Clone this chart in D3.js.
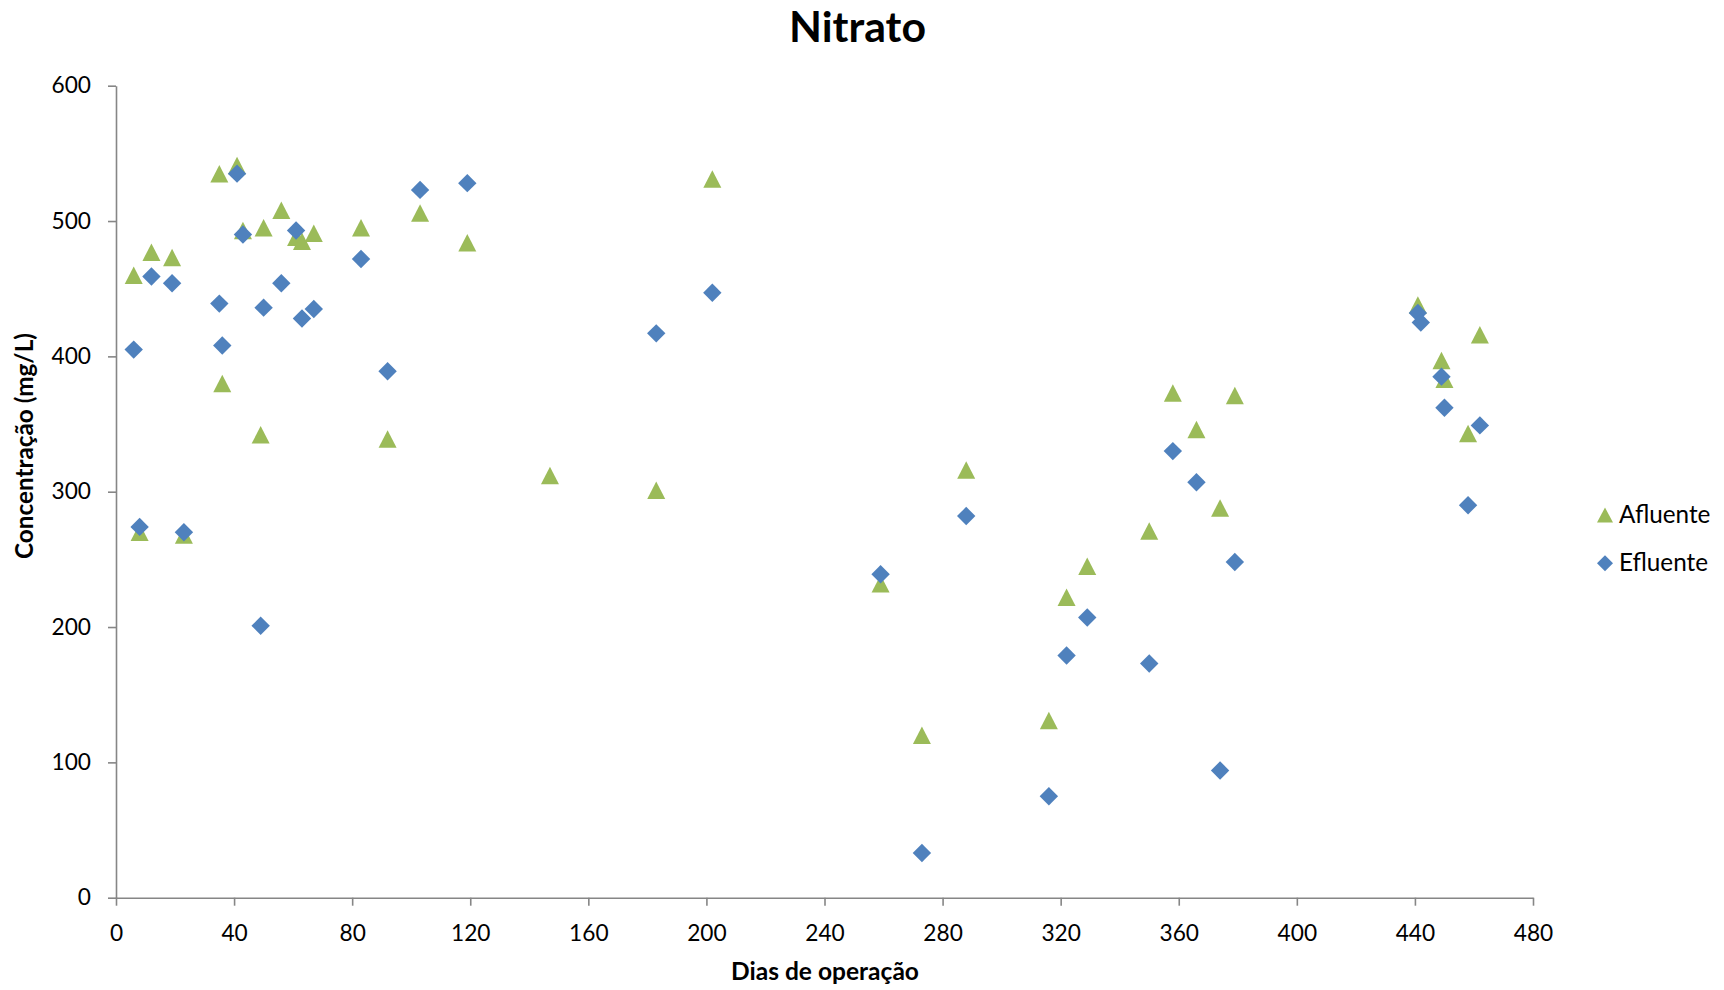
<!DOCTYPE html>
<html>
<head>
<meta charset="utf-8">
<script src="https://cdn.jsdelivr.net/npm/d3@7"></script>
<style>
  body { margin: 0; background: #ffffff; }
  svg { display: block; }
  text { font-family: Lato, "Open Sans", sans-serif; fill: #000; }
</style>
</head>
<body>
<svg id="chart" width="1724" height="990"></svg>
<script>
// ---- data ----
const afluenteDays = [6, 8, 12, 19, 23, 35, 36, 41, 43, 49, 50, 56, 61, 63, 67, 83, 92, 103, 119, 147, 183, 202, 259, 273, 288, 316, 322, 329, 350, 358, 366, 374, 379, 441, 449, 450, 458, 462];
const afluenteValues = [460, 270, 477, 473, 268, 535, 380, 541, 493, 342, 495, 508, 488, 485, 491, 495, 339, 506, 484, 312, 301, 531, 232, 120, 316, 131, 222, 245, 271, 373, 346, 288, 371, 438, 397, 383, 343, 416];

const efluenteDays = [6, 8, 12, 19, 23, 35, 36, 41, 43, 49, 50, 56, 61, 63, 67, 83, 92, 103, 119, 183, 202, 259, 273, 288, 316, 322, 329, 350, 358, 366, 374, 379, 441, 442, 449, 450, 458, 462];
const efluenteValues = [405, 274, 459, 454, 270, 439, 408, 535, 490, 201, 436, 454, 493, 428, 435, 472, 389, 523, 528, 417, 447, 239, 33, 282, 75, 179, 207, 173, 330, 307, 94, 248, 432, 425, 385, 362, 290, 349];

const xTickValues = [0, 40, 80, 120, 160, 200, 240, 280, 320, 360, 400, 440, 480];
const yTickValues = [0, 100, 200, 300, 400, 500, 600];

const seriesNames = ["Afluente", "Efluente"];
const chartTitle = "Nitrato";
const xTitle = "Dias de operação";
const yTitle = "Concentração (mg/L)";

// ---- layout ----
const svg = d3.select("#chart");
const x = d3.scaleLinear().domain([0, 480]).range([116, 1533]);
const y = d3.scaleLinear().domain([0, 600]).range([897.7, 85.7]);
const green = "#9BBB59", blue = "#4F81BD", axisColor = "#868686";

function fitWidth(sel, target, base) {
  sel.style("font-size", base + "px");
  const w = sel.node().getComputedTextLength();
  const s = base * target / w;
  sel.style("font-size", s + "px");
  return s;
}

function triPath(w, h) {
  return `M0,${-h/2}L${w/2},${h/2}L${-w/2},${h/2}Z`;
}
function diaPath(r) {
  return `M0,${-r}L${r},0L0,${r}L${-r},0Z`;
}

// axes
const yAxis = svg.append("g").attr("transform", `translate(${x(0)},0)`)
  .call(d3.axisLeft(y).tickValues(yTickValues).tickSize(8).tickSizeOuter(0).tickPadding(17).tickFormat(d3.format("d")));
const xAxis = svg.append("g").attr("transform", `translate(0,${y(0)})`)
  .call(d3.axisBottom(x).tickValues(xTickValues).tickSize(8).tickSizeOuter(0).tickPadding(19).tickFormat(d3.format("d")));

[xAxis, yAxis].forEach(a => {
  a.select(".domain").attr("stroke", axisColor).attr("stroke-width", 1.6);
  a.selectAll(".tick line").attr("stroke", axisColor).attr("stroke-width", 1.6);
  a.selectAll(".tick text").attr("fill", "#000").style("font-family", "Lato, sans-serif");
});

// fit tick label size using the "600" label
const t600 = yAxis.selectAll(".tick text").filter(d => d === 600);
const tickSize = fitWidth(t600, 39.5, 24);
svg.selectAll(".tick text").style("font-size", tickSize + "px");

// points
const afl = afluenteDays.map((d, i) => ({ x: d, y: afluenteValues[i] }));
const efl = efluenteDays.map((d, i) => ({ x: d, y: efluenteValues[i] }));

svg.append("g").selectAll("path").data(afl).join("path")
  .attr("d", triPath(18, 17.5))
  .attr("transform", d => `translate(${x(d.x)},${y(d.y)})`)
  .attr("fill", green);

svg.append("g").selectAll("path").data(efl).join("path")
  .attr("d", diaPath(9.2))
  .attr("transform", d => `translate(${x(d.x)},${y(d.y)})`)
  .attr("fill", blue);

// title
const title = svg.append("text").attr("x", 857.5).attr("y", 42)
  .attr("text-anchor", "middle").style("font-weight", "bold").text(chartTitle);
fitWidth(title, 137, 42);

// x title
const xt = svg.append("text").attr("x", 825).attr("y", 980)
  .attr("text-anchor", "middle").style("font-weight", "bold").text(xTitle);
fitWidth(xt, 188, 22);

// y title
const yt = svg.append("text").attr("transform", "translate(33,446) rotate(-90)")
  .attr("text-anchor", "middle").style("font-weight", "bold").text(yTitle);
fitWidth(yt, 226, 22);

// legend
const legend = svg.append("g");
const legItems = [
  { name: seriesNames[0], color: green, shape: triPath(16, 15), cy: 515, base: 523 },
  { name: seriesNames[1], color: blue, shape: diaPath(8), cy: 563.3, base: 571 }
];
let legSize = null;
legItems.forEach((it, i) => {
  legend.append("path").attr("d", it.shape).attr("fill", it.color)
    .attr("transform", `translate(1605,${it.cy})`);
  const t = legend.append("text").attr("x", 1619).attr("y", it.base).text(it.name);
  if (i === 0) legSize = fitWidth(t, 91.4, 24);
  else t.style("font-size", legSize + "px");
});
</script>
</body>
</html>
